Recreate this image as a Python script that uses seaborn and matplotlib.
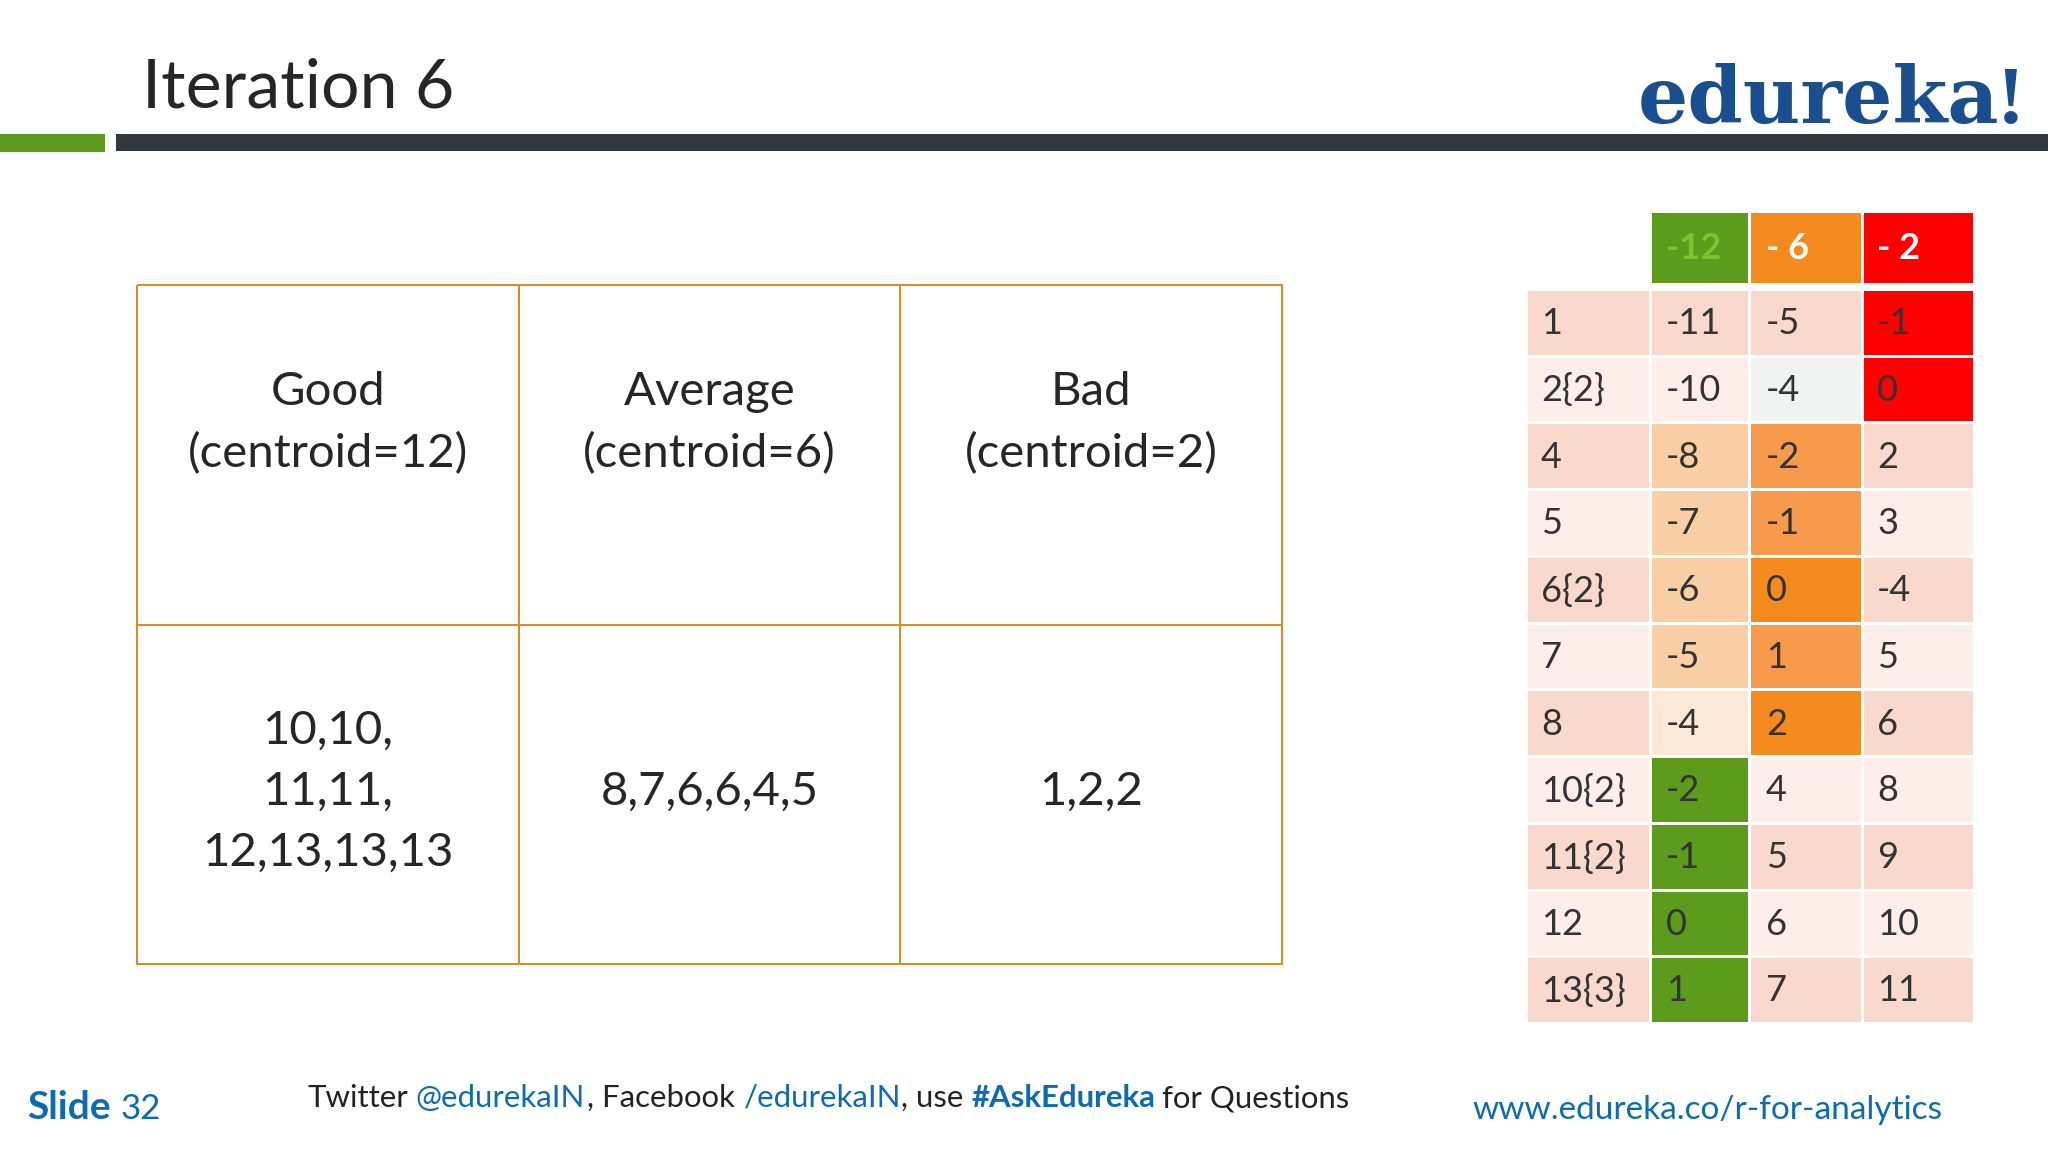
import numpy as np
import matplotlib.pyplot as plt
from matplotlib.colors import ListedColormap
from matplotlib.patches import Rectangle
import seaborn as sns

# data
table_text = [['Good\n(centroid=12)', 'Average\n(centroid=6)', 'Bad\n(centroid=2)'],
              ['10,10,\n11,11,\n12,13,13,13', '8,7,6,6,4,5', '1,2,2']]

points = ['1', '2{2}', '4', '5', '6{2}', '7', '8', '10{2}', '11{2}', '12', '13{3}']
dist_good = ['-11', '-10', '-8', '-7', '-6', '-5', '-4', '-2', '-1', '0', '1']
dist_avg = ['-5', '-4', '-2', '-1', '0', '1', '2', '4', '5', '6', '7']
dist_bad = ['-1', '0', '2', '3', '-4', '5', '6', '8', '9', '10', '11']
headers = ['-12', '- 6', '- 2']

# colour of every cell, by shade name
shades = {'pink': '#f9d9ce', 'light': '#fdeeea', 'grey': '#f1f2f2', 'peach': '#fbcfa5',
          'cream': '#fbe8d6', 'mid': '#f79a4b', 'orange': '#f58a1f',
          'green': '#5c9b1c', 'red': '#ff0000'}
shade_names = list(shades)
shade_points = ['pink', 'light', 'pink', 'light', 'pink', 'light', 'pink', 'light', 'pink', 'light', 'pink']
shade_good = ['pink', 'light', 'peach', 'peach', 'peach', 'peach', 'cream', 'green', 'green', 'green', 'green']
shade_avg = ['pink', 'grey', 'mid', 'mid', 'orange', 'mid', 'orange', 'light', 'pink', 'light', 'pink']
shade_bad = ['red', 'red', 'pink', 'light', 'pink', 'light', 'pink', 'light', 'pink', 'light', 'pink']
shade_headers = ['green', 'orange', 'red']
header_text_colors = ['#7ac52e', 'white', 'white']

W, H = 2048, 1152
sns.set_theme(style='white')
plt.rcParams['font.family'] = ['Lato', 'DejaVu Sans']

fig = plt.figure(figsize=(W / 100, H / 100), dpi=100, facecolor='white')
cmap = ListedColormap([shades[s] for s in shade_names])


def px_axes(x0, y0, x1, y1):
    # axes placed by pixel box, y measured from the top
    return fig.add_axes([x0 / W, 1 - y1 / H, (x1 - x0) / W, (y1 - y0) / H])


def draw_column(box, labels, shade_list, text_x, color='#333333', weight='normal'):
    ax = px_axes(*box)
    codes = np.array([[shade_names.index(s)] for s in shade_list])
    annot = np.array([[t] for t in labels])
    sns.heatmap(codes, ax=ax, cmap=cmap, vmin=-0.5, vmax=len(shade_names) - 0.5, cbar=False,
                annot=annot, fmt='', linewidths=0.9, linecolor='white',
                xticklabels=False, yticklabels=False,
                annot_kws={'fontsize': 26, 'color': color, 'fontweight': weight, 'ha': 'left'})
    for t in ax.texts:
        x, y = t.get_position()
        t.set_position(((text_x - box[0]) / (box[2] - box[0]), y + 0.02))
    ax.axis('off')


# overlay for the slide furniture
bg = fig.add_axes([0, 0, 1, 1])
bg.set_xlim(0, W)
bg.set_ylim(H, 0)
bg.axis('off')
bg.add_patch(Rectangle((0, 134), 105, 18, color='#5c9b1c', lw=0))
bg.add_patch(Rectangle((116, 134), W - 116, 16.5, color='#33383c', lw=0))

bg.text(142, 107, 'Iteration 6', fontsize=49, color='#262626', va='baseline')
bg.text(1638, 123, 'edureka', fontsize=57, color='#1a4f8f', family='DejaVu Serif',
        fontweight='bold', va='baseline')
bg.text(1997, 123, '!', fontsize=60, color='#1a4f8f', family='Liberation Serif',
        fontweight='bold', va='baseline')

# footer
bg.text(27, 1119, 'Slide', fontsize=28, color='#0b6cb5', fontweight='bold')
bg.text(121, 1119, '32', fontsize=25, color='#0b6cb5')
footer_runs = [(308, 'Twitter', '#222222', 'normal'), (415, '@edurekaIN', '#0b6cb5', 'normal'),
               (587, ', Facebook', '#222222', 'normal'), (744, '/edurekaIN', '#0b6cb5', 'normal'),
               (901, ', use', '#222222', 'normal'), (972, '#AskEdureka', '#0b6cb5', 'bold'),
               (1162, 'for Questions', '#222222', 'normal')]
for x, s, c, w in footer_runs:
    bg.text(x, 1107, s, fontsize=22.4, color=c, fontweight=w)
bg.text(1472, 1119, 'www.edureka.co/r-for-analytics', fontsize=24, color='#0b6cb5')

# cluster table
tab = px_axes(137, 285, 1282, 964)
sns.heatmap(np.zeros((2, 3)), ax=tab, cmap=ListedColormap(['white']), cbar=False,
            linewidths=1.2, linecolor='#dd8a28', xticklabels=False, yticklabels=False)
tab.collections[0].set_clip_on(False)
tab.axis('off')
for col in range(3):
    tab.text(col + 0.5, 0.408, table_text[0][col], ha='center', va='center', fontsize=34,
             color='#262626', linespacing=1.55)
    tab.text(col + 0.5, 1.493, table_text[1][col], ha='center', va='center', fontsize=34,
             color='#262626', linespacing=1.55)

# distance heatmap, one axes per column because the widths differ
body_top, body_bottom = 289, 1023
draw_column((1526, body_top, 1650, body_bottom), points, shade_points, 1541)
draw_column((1650, body_top, 1749, body_bottom), dist_good, shade_good, 1666)
draw_column((1749, body_top, 1862, body_bottom), dist_avg, shade_avg, 1766)
draw_column((1862, body_top, 1974, body_bottom), dist_bad, shade_bad, 1877)
draw_column((1650, 211, 1749, 284), headers[:1], shade_headers[:1], 1666, header_text_colors[0], 'bold')
draw_column((1749, 211, 1862, 284), headers[1:2], shade_headers[1:2], 1766, header_text_colors[1], 'bold')
draw_column((1862, 211, 1974, 284), headers[2:], shade_headers[2:], 1877, header_text_colors[2], 'bold')

fig.savefig('out.png', dpi=100)
